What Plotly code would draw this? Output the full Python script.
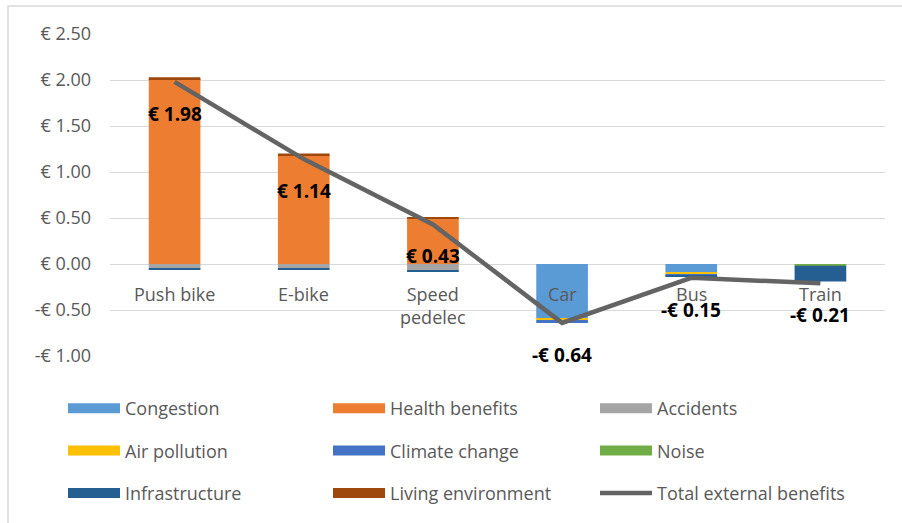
import plotly.graph_objects as go

categories = ["Push bike", "E-bike", "Speed pedelec", "Car", "Bus", "Train"]
category_labels = ["Push bike", "E-bike", "Speed<br>pedelec", "Car", "Bus", "Train"]

congestion = [0.0, 0.0, 0.0, -0.59, -0.09, 0.0]
health_benefits = [2.01, 1.18, 0.49, 0.0, 0.0, 0.0]
accidents = [-0.045, -0.045, -0.07, 0.0, 0.0, 0.0]
air_pollution = [0.0, 0.0, 0.0, -0.02, -0.02, 0.0]
climate_change = [0.0, 0.0, 0.0, -0.03, -0.02, 0.0]
noise = [0.0, 0.0, 0.0, 0.0, 0.0, -0.02]
infrastructure = [-0.01, -0.01, -0.01, 0.0, -0.01, -0.17]
living_environment = [0.02, 0.02, 0.02, 0.0, 0.0, 0.0]
total_external = [1.98, 1.14, 0.43, -0.64, -0.15, -0.21]
total_labels = ["€ 1.98", "€ 1.14", "€ 0.43", "-€ 0.64", "-€ 0.15", "-€ 0.21"]

tick_vals = [2.5, 2.0, 1.5, 1.0, 0.5, 0.0, -0.5, -1.0]
tick_text = ["€ 2.50", "€ 2.00", "€ 1.50", "€ 1.00", "€ 0.50", "€ 0.00", "-€ 0.50", "-€ 1.00"]

# (name, values, colour, legend column)
series = [
    ("Congestion", congestion, "#5B9BD5", "legend"),
    ("Health benefits", health_benefits, "#ED7D31", "legend2"),
    ("Accidents", accidents, "#A5A5A5", "legend3"),
    ("Air pollution", air_pollution, "#FFC000", "legend"),
    ("Climate change", climate_change, "#4472C4", "legend2"),
    ("Noise", noise, "#70AD47", "legend3"),
    ("Infrastructure", infrastructure, "#255E91", "legend"),
    ("Living environment", living_environment, "#9E480E", "legend2"),
]

FONT = "Open Sans"
fig = go.Figure()

for name, vals, color, lg in series:
    fig.add_trace(go.Bar(x=categories, y=vals, name=name, marker=dict(color=color, line=dict(width=0)),
                         showlegend=False, hoverinfo="skip"))

# legend-only proxies with wide swatches, ordered by column
for name, vals, color, lg in series:
    fig.add_trace(go.Scatter(x=[None], y=[None], mode="lines", name=name, legendgroup=name,
                             line=dict(color=color, width=14), legend=lg, showlegend=True))

fig.add_trace(go.Scatter(x=categories, y=total_external, mode="lines", name="Total external benefits",
                         legendgroup="total", line=dict(color="#646464", width=4.5), legend="legend3"))

# data labels under the total line points
for c, v, t in zip(categories, total_external, total_labels):
    fig.add_annotation(x=c, y=v, text="<b>" + t + "</b>", showarrow=False, yshift=-32,
                       yanchor="middle", font=dict(family=FONT, size=19, color="#000000"))

# category labels next to the zero axis
for c, lab in zip(categories, category_labels):
    fig.add_annotation(x=c, y=0, text=lab, showarrow=False, yshift=-16, yanchor="top",
                       font=dict(family=FONT, size=18, color="#595959"))

# chart border
fig.add_shape(type="rect", xref="paper", yref="paper", x0=-0.1316, x1=1.0258, y0=-0.523, y1=1.0867,
              line=dict(color="#D9D9D9", width=1.5), fillcolor="rgba(0,0,0,0)", layer="below")

leg_common = dict(orientation="v", xanchor="left", yanchor="top", itemwidth=52,
                  bgcolor="rgba(0,0,0,0)", tracegroupgap=16, traceorder="grouped",
                  font=dict(family=FONT, size=18, color="#595959"),
                  itemclick=False, itemdoubleclick=False)
leg_y = (357 - 390) / 323

fig.update_layout(
    width=902, height=523,
    margin=dict(l=110, r=17, t=34, b=166),
    paper_bgcolor="white", plot_bgcolor="white",
    barmode="relative", bargap=0.6,
    showlegend=True,
    legend=dict(x=(63 - 110) / 775, y=leg_y, **leg_common),
    legend2=dict(x=(328 - 110) / 775, y=leg_y, **leg_common),
    legend3=dict(x=(595 - 110) / 775, y=leg_y, **leg_common),
    xaxis=dict(showticklabels=False, showgrid=False, zeroline=False, showline=False, ticks=""),
    yaxis=dict(range=[-1.0, 2.5], tickvals=tick_vals, ticktext=tick_text, showgrid=True,
               gridcolor="#D9D9D9", gridwidth=1.3, zeroline=True, zerolinecolor="#D9D9D9",
               zerolinewidth=1.3, showline=False, ticks="", ticklabelstandoff=18,
               tickfont=dict(family=FONT, size=18, color="#595959")),
    font=dict(family=FONT),
)

fig.write_html("out.html")
